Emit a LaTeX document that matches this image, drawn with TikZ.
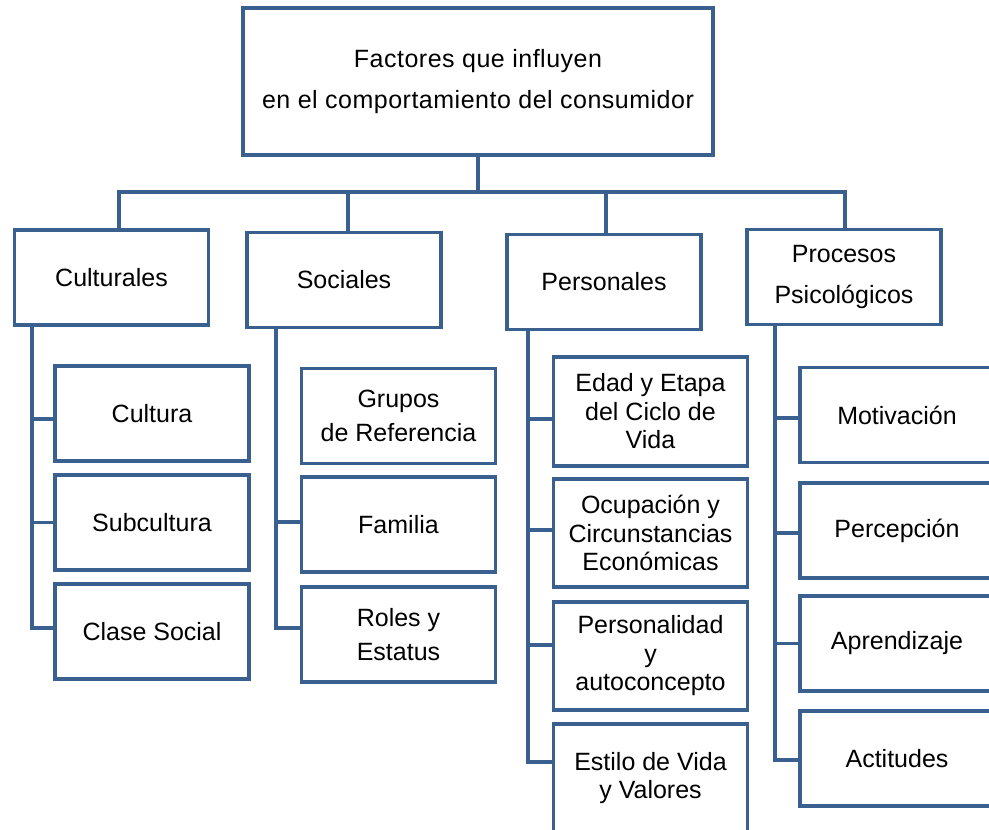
\documentclass[tikz,border=0pt]{standalone}
\usepackage{fontspec}
\setmainfont{Liberation Sans}
\definecolor{azulmarco}{RGB}{58,96,143}

\tikzset{
  caja/.style={draw=azulmarco, line width=3.4pt, fill=white, align=center,
    minimum width=194pt, minimum height=95pt, inner sep=0pt,
    font=\fontsize{25}{28.5}\selectfont},
  rama/.style={draw=azulmarco, line width=3.4pt, line join=miter}
}

\begin{document}
\begin{tikzpicture}[x=1pt,y=-1pt]
        \useasboundingbox (0,0) rectangle (989,830);
        % nivel superior
        \node [caja, minimum width=470pt, minimum height=147pt] (factores) at (478,81.5)
          {\addfontfeature{LetterSpace=2}Factores que influyen\\[13pt]%
           \addfontfeature{LetterSpace=2}en el comportamiento del consumidor};
        \coordinate (barra) at (478,192);
        % grupos de factores
        \node [caja] (cult) at (111.5,277.5) {Culturales};
        \node [caja] (soc) at (344,280) {Sociales};
        \node [caja] (pers) at (604,282) {Personales};
        \node [caja] (proc) at (844,277) {Procesos\\[12pt]Psicológicos};
        % culturales
        \node [caja] (cultura) at (152,413.5) {Cultura};
        \node [caja] (subcultura) at (152,522.5) {Subcultura};
        \node [caja] (clase) at (152,631.5) {Clase Social};
        % sociales
        \node [caja] (grupos) at (398.5,416) {Grupos\\[5pt]de Referencia};
        \node [caja] (familia) at (398.5,524.5) {Familia};
        \node [caja] (roles) at (398.5,634.5) {Roles y\\[6pt]Estatus};
        % personales
        \node [caja, minimum height=109pt] (edad) at (650.5,411.5)
          {Edad y Etapa\\del Ciclo de\\Vida};
        \node [caja, minimum height=108pt] (ocupacion) at (650.5,533)
          {Ocupación y\\Circunstancias\\Económicas};
        \node [caja, minimum height=108pt] (personalidad) at (650.5,656)
          {Personalidad\\y\\autoconcepto};
        \node [caja, minimum height=108pt] (estilo) at (650.5,778)
          {Estilo de Vida\\y Valores};
        % procesos psicologicos
        \node [caja] (motivacion) at (897,415) {Motivación};
        \node [caja] (percepcion) at (897,530.5) {Percepción};
        \node [caja] (aprendizaje) at (897,643.5) {Aprendizaje};
        \node [caja] (actitudes) at (897,758.5) {Actitudes};

        \begin{scope}[rama]
          \draw (factores.south) -- (barra);
          \draw ([xshift=7.5pt]cult.north) |- (barra) -| ([xshift=1pt]proc.north);
          \draw ([xshift=4pt]soc.north) |- (barra);
          \draw ([xshift=2pt]pers.north) |- (barra);

          \draw ([xshift=-79.5pt]cult.south) |- ([yshift=-5.5pt]cultura.west);
          \draw ([xshift=-79.5pt]cult.south) |- (subcultura.west);
          \draw ([xshift=-79.5pt]cult.south) |- ([yshift=3.5pt]clase.west);

          \draw ([xshift=-68pt]soc.south) |- ([yshift=2.5pt]familia.west);
          \draw ([xshift=-68pt]soc.south) |- ([yshift=6.5pt]roles.west);

          \draw ([xshift=-76pt]pers.south) |- ([yshift=-7.5pt]edad.west);
          \draw ([xshift=-76pt]pers.south) |- ([yshift=3pt]ocupacion.west);
          \draw ([xshift=-76pt]pers.south) |- ([yshift=11pt]personalidad.west);
          \draw ([xshift=-76pt]pers.south) |- ([yshift=16pt]estilo.west);

          \draw ([xshift=-69pt]proc.south) |- ([yshift=-3pt]motivacion.west);
          \draw ([xshift=-69pt]proc.south) |- ([yshift=-2.5pt]percepcion.west);
          \draw ([xshift=-69pt]proc.south) |- (aprendizaje.west);
          \draw ([xshift=-69pt]proc.south) |- ([yshift=-1.5pt]actitudes.west);
        \end{scope}
      \end{tikzpicture}
\end{document}
